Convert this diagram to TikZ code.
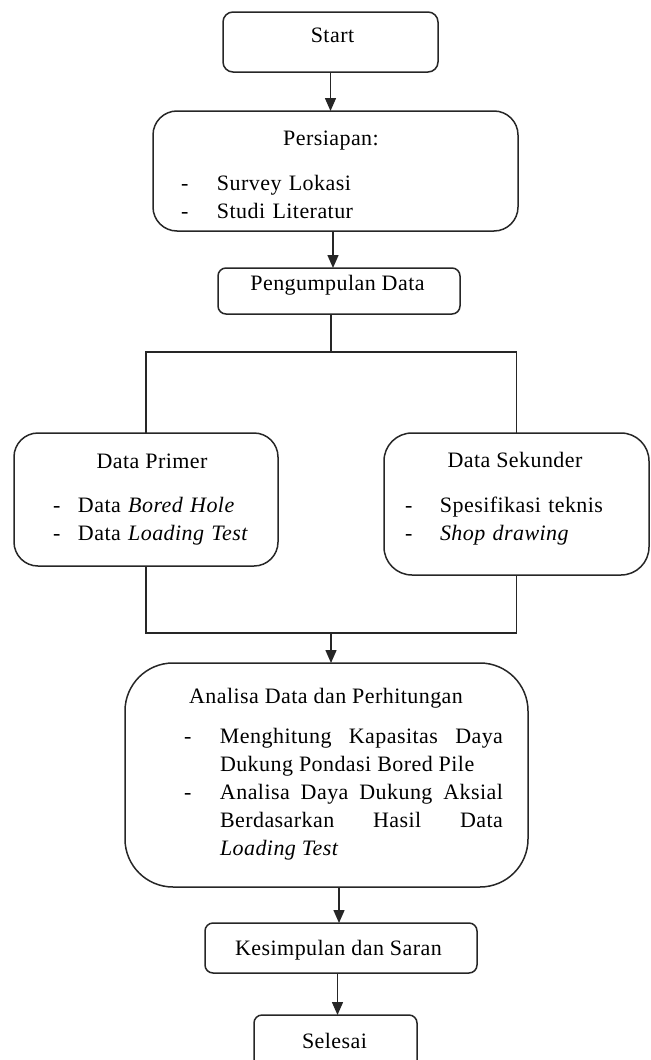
\documentclass[tikz,border=0pt]{standalone}
\usepackage{fontspec}
\setmainfont{Liberation Serif}[LetterSpace=2]
\usetikzlibrary{arrows.meta}
\begin{document}
\begin{tikzpicture}[x=0.5pt,y=-0.5pt,
  box/.style={draw=black!85, line width=0.75pt, inner sep=0pt, outer sep=0pt},
  txt/.style={inner sep=0pt, outer sep=0pt, font=\fontsize{11}{14}\selectfont},
  lst/.style={txt, anchor=base west, align=left},
  ln/.style={draw=black!85, line width=0.75pt},
  arr/.style={ln, -{Triangle[length=6.5pt,width=5.5pt]}}
]
\useasboundingbox (0,0) rectangle (651,1060);
\clip (0,0) rectangle (651,1060);

% boxes
\node[box, rounded corners=5pt, minimum width=107.5pt, minimum height=30pt] (start) at (330.5,42) {};
\node[box, rounded corners=12pt, minimum width=182.5pt, minimum height=60pt] (prep) at (335.5,171) {};
\node[box, rounded corners=4pt, minimum width=121pt, minimum height=23pt] (collect) at (339,291) {};
\node[box, rounded corners=12pt, minimum width=132pt, minimum height=66.5pt] (primer) at (146,499.5) {};
\node[box, rounded corners=14pt, minimum width=132.5pt, minimum height=71pt] (sekunder) at (516.5,504) {};
\node[box, rounded corners=24pt, minimum width=201.5pt, minimum height=112pt] (analisa) at (326.5,775) {};
\node[box, rounded corners=4pt, minimum width=136pt, minimum height=25pt] (kesimpulan) at (341,948) {};
\node[box, rounded corners=4pt, minimum width=81.5pt, minimum height=32.5pt] (selesai) at (335.5,1047.5) {};

% texts
\node[txt, anchor=base] (tstart) at (332.5,42) {Start};
\node[txt, anchor=base] (tprep) at (331,145) {Persiapan:};
\node[lst, text width=150pt] (lprep) at (181,190) {\makebox[18pt][l]{-}Survey Lokasi\\\makebox[18pt][l]{-}Studi Literatur};
\node[txt, anchor=base] (tcollect) at (337.5,290) {Pengumpulan Data};
\node[txt, anchor=base] (tprimer) at (152,468) {Data Primer};
\node[lst, text width=115pt] (lprimer) at (53,512) {\makebox[12.5pt][l]{-}Data \textit{Bored Hole}\\\makebox[12.5pt][l]{-}Data \textit{Loading Test}};
\node[txt, anchor=base] (tsekunder) at (515,467) {Data Sekunder};
\node[lst, text width=115pt] (lsekunder) at (405,512) {\makebox[17.5pt][l]{-}Spesifikasi teknis\\\makebox[17.5pt][l]{-}\textit{Shop drawing}};
\node[txt, anchor=base] (tanalisa) at (326,703) {Analisa Data dan Perhitungan};
\node[txt, anchor=base west, text width=159.5pt, align=justify] (lanalisa) at (184,743)
  {\parindent=0pt\hangindent=18pt\hangafter=1\makebox[18pt][l]{-}Menghitung Kapasitas Daya\linebreak Dukung Pondasi Bored Pile\par
   \hangindent=18pt\hangafter=1\makebox[18pt][l]{-}Analisa Daya Dukung Aksial\linebreak Berdasarkan Hasil Data\linebreak \textit{Loading Test}\par};
\node[txt, anchor=base] (tkesimpulan) at (338.5,955) {Kesimpulan dan Saran};
\node[txt, anchor=base] (tselesai) at (334.5,1048) {Selesai};

% connectors
\draw[arr] (start.south) -- (start.south |- prep.north);
\draw[arr] ([xshift=-1.25pt]prep.south) -- ([xshift=-1.25pt]prep.south |- collect.north);
\coordinate (split) at (331,352);
\draw[ln] (collect.south -| split) -- (split);
\draw[ln] (primer.north) |- (split) -| (sekunder.north);
\coordinate (merge) at (331,633);
\draw[ln] (primer.south) |- (merge) -| (sekunder.south);
\draw[arr] (merge) -- (merge |- analisa.north);
\draw[arr] ([xshift=-1pt]kesimpulan.north |- analisa.south) -- ([xshift=-1pt]kesimpulan.north);
\draw[arr] ([xshift=1pt]selesai.north |- kesimpulan.south) -- ([xshift=1pt]selesai.north);
\end{tikzpicture}
\end{document}
